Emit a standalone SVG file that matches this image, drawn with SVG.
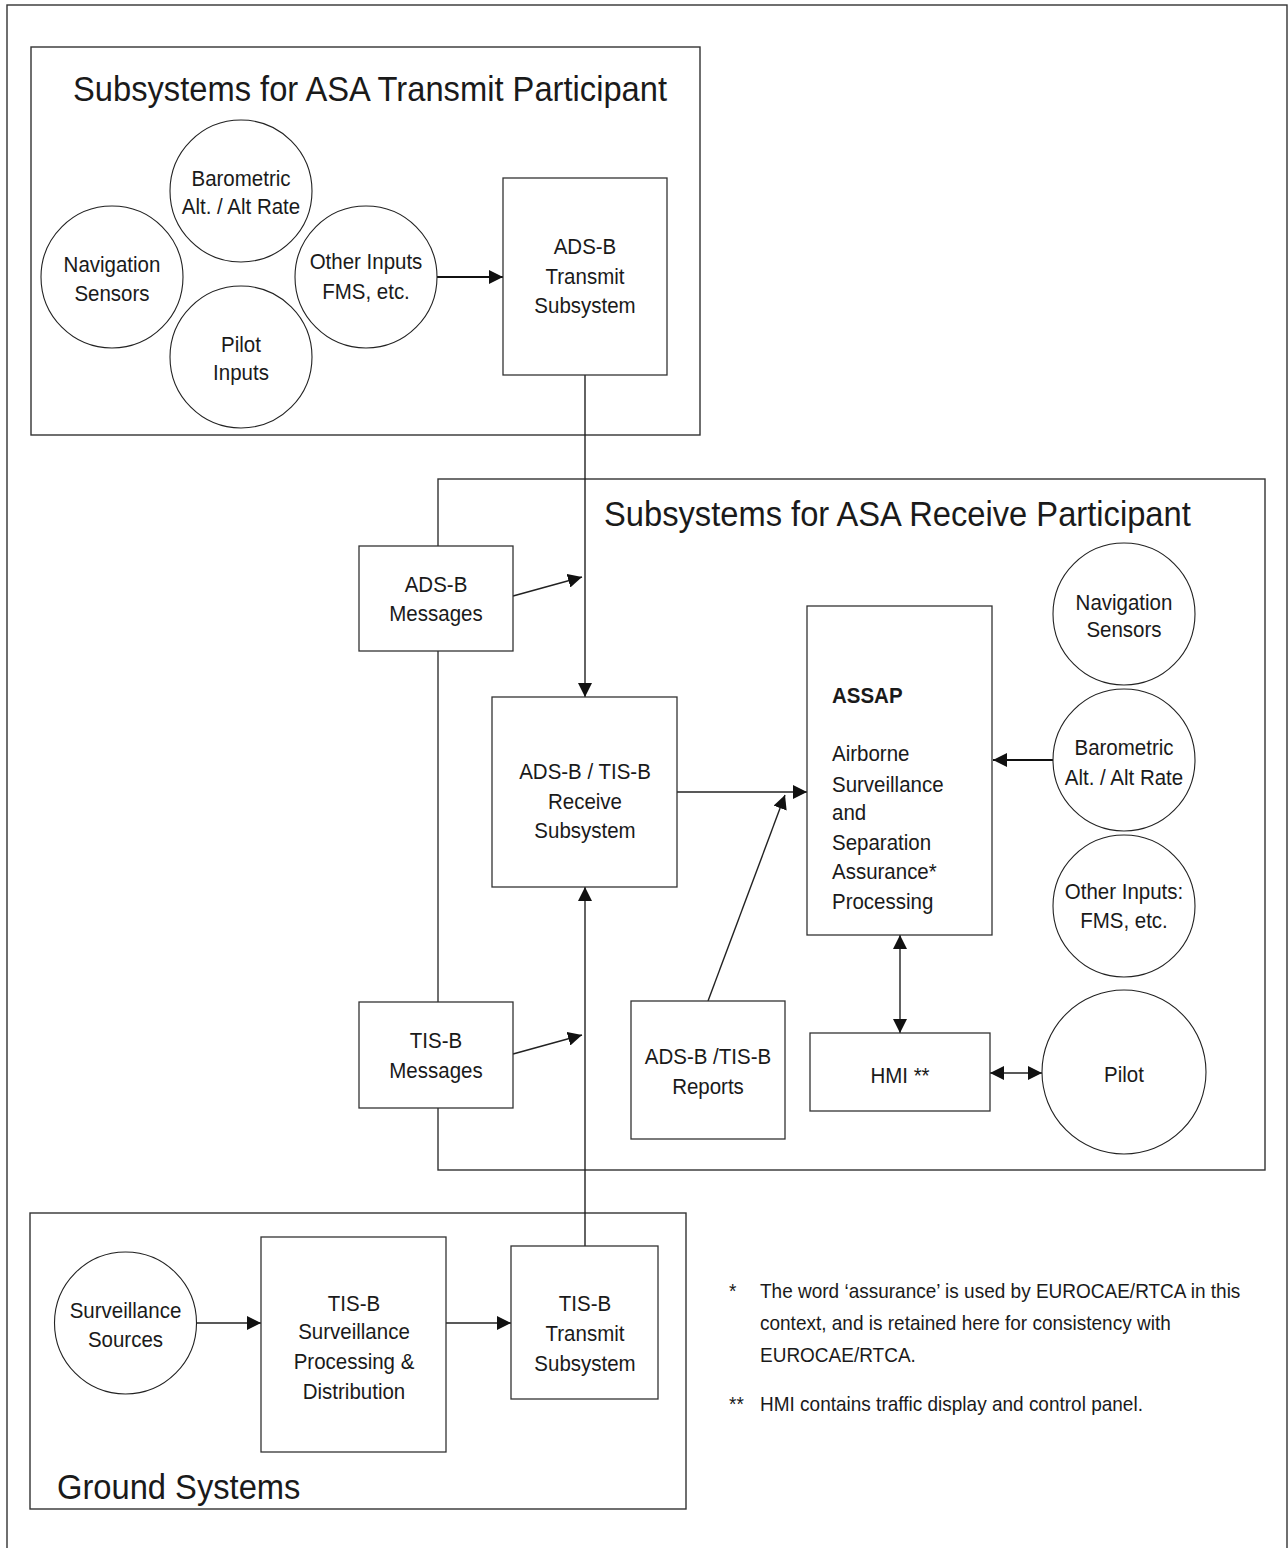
<svg xmlns="http://www.w3.org/2000/svg" width="1288" height="1548" viewBox="0 0 1288 1548">
<style>
  .frame { fill: none; stroke: #333; stroke-width: 1.4; }
  .box { fill: #fff; stroke: #333; stroke-width: 1.3; }
  .circ { fill: #fff; stroke: #222; stroke-width: 1.1; }
  .ln { fill: none; stroke: #222; stroke-width: 1.4; }
  .thick { fill: none; stroke: #111; stroke-width: 2.2; }
  text { font-family: "Liberation Sans", Arial, sans-serif; fill: #1a1a1a; transform-box: fill-box; transform-origin: 50% 50%; transform: scaleY(1.1); }
  .t { font-size: 20.5px; text-anchor: middle; }
  .tl { font-size: 20.5px; }
  .b { font-weight: bold; }
  .title { font-size: 32.7px; }
  .fn { font-size: 19px; }
</style>
<defs>
  <marker id="ah" markerUnits="userSpaceOnUse" markerWidth="14" markerHeight="14" viewBox="0 0 13 13" refX="13" refY="6.5" orient="auto-start-reverse">
    <path d="M0,0 L13,6.5 L0,13 z" fill="#111"/>
  </marker>
</defs>
<rect x="0" y="0" width="1288" height="1548" fill="#fff"/>

<!-- outer frame -->
<rect id="outer-frame" x="7" y="5" width="1280" height="1560" class="frame"/>

<!-- group frames -->
<g id="transmit-group">
  <rect x="31" y="47" width="669" height="388" class="frame"/>
  <text class="title" x="73" y="100">Subsystems for ASA Transmit Participant</text>
</g>
<g id="receive-group">
  <rect x="438" y="479" width="827" height="691" class="frame"/>
  <text class="title" x="604" y="525">Subsystems for ASA Receive Participant</text>
</g>
<g id="ground-group">
  <rect x="30" y="1213" width="656" height="296" class="frame"/>
  <text class="title" x="57" y="1498">Ground Systems</text>
</g>

<!-- connectors -->
<g id="connectors">
  <line class="thick" x1="437" y1="277" x2="503" y2="277" marker-end="url(#ah)"/>
  <line class="ln" x1="585" y1="375" x2="585" y2="697" marker-end="url(#ah)"/>
  <line class="ln" x1="513" y1="596" x2="582" y2="577" marker-end="url(#ah)"/>
  <line class="ln" x1="513" y1="1054" x2="582" y2="1035" marker-end="url(#ah)"/>
  <line class="ln" x1="585" y1="1246" x2="585" y2="887" marker-end="url(#ah)"/>
  <line class="ln" x1="677" y1="792" x2="807" y2="792" marker-end="url(#ah)"/>
  <line class="ln" x1="708" y1="1001" x2="785" y2="795" marker-end="url(#ah)"/>
  <line class="thick" x1="1053" y1="760" x2="993" y2="760" marker-end="url(#ah)"/>
  <line class="ln" x1="900" y1="935" x2="900" y2="1033" marker-start="url(#ah)" marker-end="url(#ah)"/>
  <line class="ln" x1="990" y1="1073" x2="1042" y2="1073" marker-start="url(#ah)" marker-end="url(#ah)"/>
  <line class="ln" x1="196" y1="1323" x2="261" y2="1323" marker-end="url(#ah)"/>
  <line class="ln" x1="446" y1="1323" x2="511" y2="1323" marker-end="url(#ah)"/>
</g>

<!-- transmit participant nodes -->
<g id="nav-sensors-tx">
  <circle class="circ" cx="112" cy="277" r="71"/>
  <text class="t" x="112" y="271">Navigation</text>
  <text class="t" x="112" y="300">Sensors</text>
</g>
<g id="baro-tx">
  <circle class="circ" cx="241" cy="191" r="71"/>
  <text class="t" x="241" y="185">Barometric</text>
  <text class="t" x="241" y="213">Alt. / Alt Rate</text>
</g>
<g id="pilot-inputs-tx">
  <circle class="circ" cx="241" cy="357" r="71"/>
  <text class="t" x="241" y="351">Pilot</text>
  <text class="t" x="241" y="379">Inputs</text>
</g>
<g id="other-inputs-tx">
  <circle class="circ" cx="366" cy="277" r="71"/>
  <text class="t" x="366" y="268">Other Inputs</text>
  <text class="t" x="366" y="298">FMS, etc.</text>
</g>
<g id="adsb-transmit">
  <rect class="box" x="503" y="178" width="164" height="197"/>
  <text class="t" x="585" y="253">ADS-B</text>
  <text class="t" x="585" y="283">Transmit</text>
  <text class="t" x="585" y="312">Subsystem</text>
</g>

<!-- receive participant nodes -->
<g id="adsb-messages">
  <rect class="box" x="359" y="546" width="154" height="105"/>
  <text class="t" x="436" y="591">ADS-B</text>
  <text class="t" x="436" y="620">Messages</text>
</g>
<g id="tisb-messages">
  <rect class="box" x="359" y="1002" width="154" height="106"/>
  <text class="t" x="436" y="1047">TIS-B</text>
  <text class="t" x="436" y="1077">Messages</text>
</g>
<g id="receive-subsystem">
  <rect class="box" x="492" y="697" width="185" height="190"/>
  <text class="t" x="585" y="778">ADS-B / TIS-B</text>
  <text class="t" x="585" y="808">Receive</text>
  <text class="t" x="585" y="837">Subsystem</text>
</g>
<g id="reports">
  <rect class="box" x="631" y="1001" width="154" height="138"/>
  <text class="t" x="708" y="1063">ADS-B /TIS-B</text>
  <text class="t" x="708" y="1093">Reports</text>
</g>
<g id="assap">
  <rect class="box" x="807" y="606" width="185" height="329"/>
  <text class="tl b" x="832" y="702">ASSAP</text>
  <text class="tl" x="832" y="760">Airborne</text>
  <text class="tl" x="832" y="791">Surveillance</text>
  <text class="tl" x="832" y="819">and</text>
  <text class="tl" x="832" y="849">Separation</text>
  <text class="tl" x="832" y="878">Assurance*</text>
  <text class="tl" x="832" y="908">Processing</text>
</g>
<g id="hmi">
  <rect class="box" x="810" y="1033" width="180" height="78"/>
  <text class="t" x="900" y="1082">HMI **</text>
</g>
<g id="nav-sensors-rx">
  <circle class="circ" cx="1124" cy="614" r="71"/>
  <text class="t" x="1124" y="609">Navigation</text>
  <text class="t" x="1124" y="636">Sensors</text>
</g>
<g id="baro-rx">
  <circle class="circ" cx="1124" cy="760" r="71"/>
  <text class="t" x="1124" y="754">Barometric</text>
  <text class="t" x="1124" y="784">Alt. / Alt Rate</text>
</g>
<g id="other-inputs-rx">
  <circle class="circ" cx="1124" cy="906" r="71"/>
  <text class="t" x="1124" y="898">Other Inputs:</text>
  <text class="t" x="1124" y="927">FMS, etc.</text>
</g>
<g id="pilot">
  <circle class="circ" cx="1124" cy="1072" r="82"/>
  <text class="t" x="1124" y="1081">Pilot</text>
</g>

<!-- ground nodes -->
<g id="surveillance-sources">
  <circle class="circ" cx="125.5" cy="1323" r="71"/>
  <text class="t" x="125.5" y="1317">Surveillance</text>
  <text class="t" x="125.5" y="1346">Sources</text>
</g>
<g id="tisb-processing">
  <rect class="box" x="261" y="1237" width="185" height="215"/>
  <text class="t" x="354" y="1310">TIS-B</text>
  <text class="t" x="354" y="1338">Surveillance</text>
  <text class="t" x="354" y="1368">Processing &amp;</text>
  <text class="t" x="354" y="1398">Distribution</text>
</g>
<g id="tisb-transmit">
  <rect class="box" x="511" y="1246" width="147" height="153"/>
  <text class="t" x="585" y="1310">TIS-B</text>
  <text class="t" x="585" y="1340">Transmit</text>
  <text class="t" x="585" y="1370">Subsystem</text>
</g>

<!-- footnotes -->
<g id="footnotes">
  <text class="fn" x="729" y="1297">*</text>
  <text class="fn" x="760" y="1297">The word ‘assurance’ is used by EUROCAE/RTCA in this</text>
  <text class="fn" x="760" y="1329">context, and is retained here for consistency with</text>
  <text class="fn" x="760" y="1361">EUROCAE/RTCA.</text>
  <text class="fn" x="729" y="1410">**</text>
  <text class="fn" x="760" y="1410">HMI contains traffic display and control panel.</text>
</g>
</svg>
